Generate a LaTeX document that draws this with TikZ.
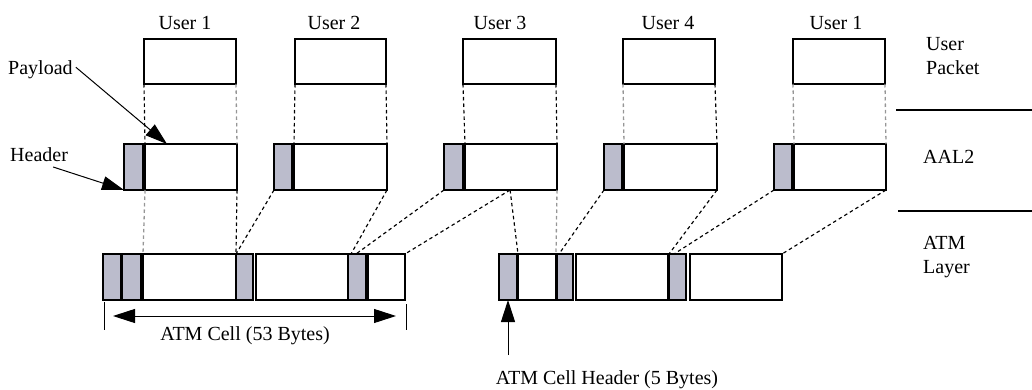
\documentclass[tikz,border=0pt]{standalone}
\usepackage{fontspec}
\setmainfont{Liberation Serif}
\usetikzlibrary{arrows.meta,calc}
\definecolor{hdrgray}{RGB}{187,188,204}
\definecolor{dashgray}{RGB}{150,150,150}
\begin{document}
\begin{tikzpicture}[x=1pt,y=-1pt,
  font=\fontsize{20}{24}\selectfont,
  box/.style={draw,line width=1.3pt,inner sep=0pt,outer sep=0pt,anchor=north west,fill=white},
  hdr/.style={box,fill=hdrgray,line width=1.4pt},
  lbl/.style={inner sep=0pt,anchor=base},
  lblw/.style={inner sep=0pt,anchor=base west},
  map/.style={line width=1.15pt,dash pattern=on 3.5pt off 3pt},
  mapg/.style={map,draw=dashgray,line width=1.3pt},
  pointer/.style={line width=1pt,-{Triangle[length=22pt,width=14pt]}},
  edge/.style={line width=2.6pt},
  sep/.style={line width=2pt}
]
\useasboundingbox (0,0) rectangle (1032,390);

% ---- user packets ----
\node[box,minimum width=92pt,minimum height=45pt] (p1) at (144,39) {};
\node[box,minimum width=91pt,minimum height=45pt] (p2) at (295,39) {};
\node[box,minimum width=93pt,minimum height=45pt] (p3) at (463,39) {};
\node[box,minimum width=92pt,minimum height=45pt] (p4) at (623,39) {};
\node[box,minimum width=92pt,minimum height=45pt] (p5) at (793,39) {};

\node[lbl] (u1) at (185,30) {User 1};
\node[lbl] (u2) at (334,30) {User 2};
\node[lbl] (u3) at (500,30) {User 3};
\node[lbl] (u4) at (668,30) {User 4};
\node[lbl] (u5) at (836,30) {User 1};

% ---- AAL2 packets: header + payload ----
\node[hdr,minimum width=19pt,minimum height=46pt] (h1) at (124,144) {};
\node[box,minimum width=92pt,minimum height=46pt] (a1) at (145,144) {};
\node[hdr,minimum width=18pt,minimum height=46pt] (h2) at (274,144) {};
\node[box,minimum width=93pt,minimum height=46pt] (a2) at (294,144) {};
\node[hdr,minimum width=19pt,minimum height=46pt] (h3) at (444,144) {};
\node[box,minimum width=92pt,minimum height=46pt] (a3) at (465,144) {};
\node[hdr,minimum width=18pt,minimum height=46pt] (h4) at (604,144) {};
\node[box,minimum width=93pt,minimum height=46pt] (a4) at (624,144) {};
\node[hdr,minimum width=18pt,minimum height=46pt] (h5) at (774,144) {};
\node[box,minimum width=92pt,minimum height=46pt] (a5) at (794,144) {};
\foreach \h in {h1,h2,h3,h4,h5}
  \draw[edge] (\h.north east) -- (\h.south east);

% ---- ATM cells ----
\node[hdr,minimum width=18pt,minimum height=46pt] (k1) at (103,254) {};
\node[hdr,minimum width=19pt,minimum height=46pt] (g1) at (122,254) {};
\node[box,minimum width=93pt,minimum height=46pt] (w1) at (143,254) {};
\node[hdr,minimum width=17pt,minimum height=46pt] (g2) at (236,254) {};
\node[box,minimum width=92pt,minimum height=46pt] (w2) at (256,254) {};
\node[hdr,minimum width=18pt,minimum height=46pt] (g3) at (348,254) {};
\node[box,minimum width=37pt,minimum height=46pt] (w3) at (368,254) {};

\node[hdr,minimum width=18pt,minimum height=46pt] (k2) at (499,254) {};
\node[box,minimum width=38pt,minimum height=46pt] (w3b) at (518,254) {};
\node[hdr,minimum width=16pt,minimum height=46pt] (g4) at (557,254) {};
\node[box,minimum width=92pt,minimum height=46pt] (w4) at (576,254) {};
\node[hdr,minimum width=17pt,minimum height=46pt] (g5) at (669,254) {};
\node[box,minimum width=92pt,minimum height=46pt] (w5) at (690,254) {};

\draw[edge] (k1.north east) -- (k1.south east);
\draw[edge] (k2.north east) -- (k2.south east);
\foreach \g in {g2,g3,g4,g5}
  \draw[edge] (\g.north west) -- (\g.south west);
\draw[edge] (g3.north east) -- (g3.south east);

% ---- packet -> AAL2 payload ----
\draw[map]  (p1.south west) -- (a1.north west);
\draw[mapg] (p1.south east) -- (a1.north east);
\draw[map]  (p2.south west) -- (a2.north west);
\draw[map]  (p2.south east) -- (a2.north east);
\draw[map]  (p3.south west) -- (a3.north west);
\draw[map]  (p3.south east) -- (a3.north east);
\draw[mapg] (p4.south west) -- (a4.north west);
\draw[map]  (p4.south east) -- (a4.north east);
\draw[mapg] (p5.south west) -- (a5.north west);
\draw[mapg] (p5.south east) -- (a5.north east);

% ---- AAL2 -> ATM cells ----
\coordinate (a3cut) at ($(a3.south west)!0.49!(a3.south east)$);
\draw[mapg] (a1.south west) -- (w1.north west);
\draw[map]  (a1.south east) -- (w1.north east);
\draw[map]  (h2.south west) -- (g2.north west);
\draw[map]  (a2.south east) -- ($(g3.north west)+(3,0)$);
\draw[map]  (h3.south west) -- ($(g3.north west)+(8,0)$);
\draw[map]  (a3cut) -- (w3.north east);
\draw[map]  (a3cut) -- (w3b.north west);
\draw[mapg] (a3.south east) -- (w3b.north east);
\draw[map]  (h4.south west) -- ($(g4.north west)+(2,0)$);
\draw[map]  (a4.south east) -- (g5.north west);
\draw[map]  (h5.south west) -- ($(g5.north west)+(5,0)$);
\draw[map]  (a5.south east) -- (w5.north east);

% ---- left labels ----
\node[lblw] (paylbl) at (8,75) {Payload};
\node[lblw] (hdrlbl) at (10,162) {Header};
\draw[pointer] ($(paylbl.east)+(3,-3)$) -- ($(a1.north west)+(22,0)$);
\draw[pointer] ($(hdrlbl.base east)+(-15,5)$) -- (h1.south west);

% ---- right side: layer names ----
\node[lblw,align=left,anchor=north west] (uplbl) at (926,37) {User\\Packet};
\node[lblw] (aallbl) at (923,164) {AAL2};
\node[lblw,align=left,anchor=north west] (atmlbl) at (923,236) {ATM\\Layer};
\coordinate (s1l) at (896,110);
\coordinate (s1r) at (1032,110);
\coordinate (s2l) at (898,211);
\coordinate (s2r) at (1032,211);
\draw[sep] (s1l) -- (s1r);
\draw[sep] (s2l) -- (s2r);

% ---- cell length dimension ----
\coordinate (dl0) at ($(k1.south west)+(1,2)$);
\coordinate (dl1) at ($(k1.south west)+(1,30)$);
\coordinate (dr0) at ($(w3.south east)+(1,4)$);
\coordinate (dr1) at ($(w3.south east)+(1,30)$);
\draw[line width=1pt] (dl0) -- (dl1);
\draw[line width=1pt] (dr0) -- (dr1);
\coordinate (da) at ($(k1.south west)+(10,16)$);
\coordinate (db) at ($(w3.south east)+(-9,16)$);
\draw[line width=1pt,{Triangle[length=22pt,width=14pt]}-{Triangle[length=22pt,width=14pt]}] (da) -- (db);
\node[lbl] (celllbl) at (245,340) {ATM Cell (53 Bytes)};

% ---- cell header pointer ----
\node[lbl] (chlbl) at (607,384) {ATM Cell Header (5 Bytes)};
\coordinate (chtail) at ($(k2.south)+(0,55)$);
\draw[pointer] (chtail) -- (k2.south);
\end{tikzpicture}
\end{document}
